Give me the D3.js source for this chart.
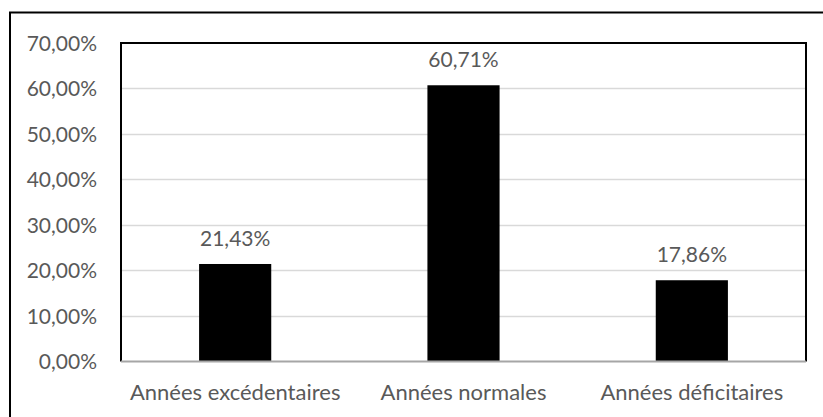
<!DOCTYPE html>
<html>
<head>
<meta charset="utf-8">
<script src="https://cdn.jsdelivr.net/npm/d3@7"></script>
<style>
  html, body { margin: 0; padding: 0; background: #fff; }
  svg { display: block; }
  text { font-family: Lato, "Open Sans", sans-serif; fill: #595959; }
</style>
</head>
<body>
<script>
// Répartition des années selon la pluviométrie
const categories = ["Années excédentaires", "Années normales", "Années déficitaires"];
const values = [0.2143, 0.6071, 0.1786];
const valueLabels = ["21,43%", "60,71%", "17,86%"];
const yTicks = [0, 0.1, 0.2, 0.3, 0.4, 0.5, 0.6, 0.7];

const W = 823, H = 417;
const plot = { left: 121, top: 43, right: 806, bottom: 361.5 };
const numSize = 21, catSize = 22;

const svg = d3.select("body").append("svg").attr("width", W).attr("height", H);

// outer chart frame
svg.append("rect")
  .attr("x", 10).attr("y", 12.5)
  .attr("width", W + 20).attr("height", H + 20)
  .attr("fill", "none").attr("stroke", "#000").attr("stroke-width", 2);

const x = d3.scaleBand().domain(categories).range([plot.left, plot.right]).paddingInner(0.684).paddingOuter(0.342);
const y = d3.scaleLinear().domain([0, 0.7]).range([plot.bottom, plot.top]);

const fmt = v => d3.format(".2f")(v * 100).replace(".", ",") + "%";

// horizontal gridlines
svg.append("g").selectAll("line").data(yTicks.slice(1, -1)).join("line")
  .attr("x1", plot.left).attr("x2", plot.right)
  .attr("y1", d => Math.round(y(d)) + 0.5).attr("y2", d => Math.round(y(d)) + 0.5)
  .attr("stroke", "#d9d9d9").attr("stroke-width", 1.5);

// y axis labels
const yAxis = d3.axisLeft(y).tickValues(yTicks).tickFormat(fmt).tickSize(0).tickPadding(0);
const gy = svg.append("g").attr("transform", `translate(${plot.left - 24},0)`).call(yAxis);
gy.select(".domain").remove();
gy.selectAll("text").attr("font-size", numSize).attr("font-family", null).attr("fill", "#595959").attr("dy", "0.34em");

// bars
svg.append("g").selectAll("rect").data(values).join("rect")
  .attr("x", (d, i) => x(categories[i]))
  .attr("width", x.bandwidth())
  .attr("y", d => y(d))
  .attr("height", d => y(0) - y(d))
  .attr("fill", "#000");

// value labels
svg.append("g").selectAll("text").data(values).join("text")
  .attr("x", (d, i) => x(categories[i]) + x.bandwidth() / 2)
  .attr("y", d => y(d) - 18)
  .attr("text-anchor", "middle")
  .attr("font-size", numSize)
  .text((d, i) => valueLabels[i]);

// plot area frame (left, top, right) and grey baseline
svg.append("path")
  .attr("d", `M${plot.left},${plot.bottom}V${plot.top}H${plot.right}V${plot.bottom}`)
  .attr("fill", "none").attr("stroke", "#000").attr("stroke-width", 2);
svg.append("line")
  .attr("x1", plot.left).attr("x2", plot.right)
  .attr("y1", plot.bottom).attr("y2", plot.bottom)
  .attr("stroke", "#a6a6a6").attr("stroke-width", 2);

// category axis labels
const xAxis = d3.axisBottom(x).tickSize(0).tickPadding(0);
const gx = svg.append("g").attr("transform", `translate(0,399.5)`).call(xAxis);
gx.select(".domain").remove();
gx.selectAll("text").attr("font-size", catSize).attr("font-family", null).attr("fill", "#595959").attr("dy", 0);
</script>
</body>
</html>
